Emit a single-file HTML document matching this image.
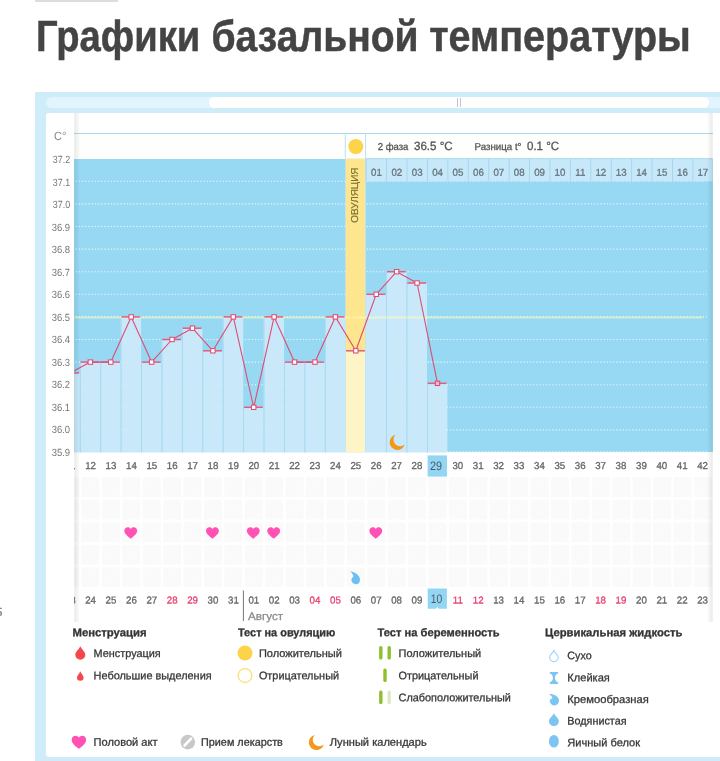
<!DOCTYPE html>
<html lang="ru"><head><meta charset="utf-8"><title>Графики базальной температуры</title>
<style>
html,body{margin:0;padding:0;background:#fff;}
body{width:720px;height:761px;overflow:hidden;position:relative;font-family:"Liberation Sans",sans-serif;}
.a{position:absolute;}
.t{position:absolute;white-space:pre;line-height:1;transform-origin:0 0;-webkit-text-stroke:0.3px currentColor;}
.st{-webkit-text-stroke:0.5px currentColor;}
.ns{-webkit-text-stroke:0;}
.s1{-webkit-text-stroke:0.12px currentColor;}
svg{position:absolute;left:0;top:0;overflow:visible;}
</style></head><body>
<div class="a" style="left:35.00px;top:0.00px;width:83.00px;height:1.50px;background:#ddd;"></div>
<div class="t" style="left:-4px;top:607px;font-size:11.5px;color:#777;">5</div>
<div class="a" style="left:35.30px;top:92.20px;width:700.00px;height:680.00px;background:#cfecf9;"></div>
<div class="a" style="left:46.00px;top:97.20px;width:700.00px;height:10.80px;background:#e2f4fd;border-radius:5.4px;"></div>
<div class="a" style="left:209.20px;top:97.20px;width:499.40px;height:10.80px;background:#fff;border-radius:5.4px;"></div>
<div class="a" style="left:457.40px;top:98.00px;width:1.00px;height:9.20px;background:#bfc7cc;"></div>
<div class="a" style="left:459.80px;top:98.00px;width:1.00px;height:9.20px;background:#bfc7cc;"></div>
<div class="a" style="left:46.00px;top:113.20px;width:700.00px;height:643.50px;background:#fff;border-radius:3px;"></div>
<div class="a" style="left:74.20px;top:133.80px;width:638.60px;height:24.90px;background:#fefefc;"></div>
<div class="a" style="left:74.20px;top:132.80px;width:638.60px;height:1.00px;background:#a9d9ef;"></div>
<div class="a" style="left:74.20px;top:158.60px;width:638.60px;height:293.90px;background:#97d8f3;"></div>
<div class="a" style="left:74.20px;top:477.40px;width:638.60px;height:109.80px;background:#f9f9f9;background-image:repeating-linear-gradient(135deg,rgba(255,255,255,0.45) 0,rgba(255,255,255,0.45) 0.8px,rgba(255,255,255,0) 0.8px,rgba(255,255,255,0) 2.2px);"></div>
<svg width="720" height="761" viewBox="0 0 720 761">
<defs><clipPath id="cp"><rect x="74.20" y="100" width="638.60" height="560"/></clipPath>
<linearGradient id="sl" x1="0" x2="1" y1="0" y2="0"><stop offset="0" stop-color="#000" stop-opacity="0.09"/><stop offset="1" stop-color="#000" stop-opacity="0"/></linearGradient>
<linearGradient id="sr" x1="0" x2="1" y1="0" y2="0"><stop offset="0" stop-color="#000" stop-opacity="0"/><stop offset="1" stop-color="#000" stop-opacity="0.09"/></linearGradient>
</defs>
<g clip-path="url(#cp)">
<rect x="58.53" y="477" width="2.5" height="111" fill="#fff" fill-opacity="0.9"/>
<rect x="78.95" y="477" width="2.5" height="111" fill="#fff" fill-opacity="0.9"/>
<rect x="99.37" y="477" width="2.5" height="111" fill="#fff" fill-opacity="0.9"/>
<rect x="119.79" y="477" width="2.5" height="111" fill="#fff" fill-opacity="0.9"/>
<rect x="140.21" y="477" width="2.5" height="111" fill="#fff" fill-opacity="0.9"/>
<rect x="160.63" y="477" width="2.5" height="111" fill="#fff" fill-opacity="0.9"/>
<rect x="181.05" y="477" width="2.5" height="111" fill="#fff" fill-opacity="0.9"/>
<rect x="201.47" y="477" width="2.5" height="111" fill="#fff" fill-opacity="0.9"/>
<rect x="221.89" y="477" width="2.5" height="111" fill="#fff" fill-opacity="0.9"/>
<rect x="242.31" y="477" width="2.5" height="111" fill="#fff" fill-opacity="0.9"/>
<rect x="262.73" y="477" width="2.5" height="111" fill="#fff" fill-opacity="0.9"/>
<rect x="283.15" y="477" width="2.5" height="111" fill="#fff" fill-opacity="0.9"/>
<rect x="303.57" y="477" width="2.5" height="111" fill="#fff" fill-opacity="0.9"/>
<rect x="323.99" y="477" width="2.5" height="111" fill="#fff" fill-opacity="0.9"/>
<rect x="344.41" y="477" width="2.5" height="111" fill="#fff" fill-opacity="0.9"/>
<rect x="364.83" y="477" width="2.5" height="111" fill="#fff" fill-opacity="0.9"/>
<rect x="385.25" y="477" width="2.5" height="111" fill="#fff" fill-opacity="0.9"/>
<rect x="405.67" y="477" width="2.5" height="111" fill="#fff" fill-opacity="0.9"/>
<rect x="426.09" y="477" width="2.5" height="111" fill="#fff" fill-opacity="0.9"/>
<rect x="446.51" y="477" width="2.5" height="111" fill="#fff" fill-opacity="0.9"/>
<rect x="466.93" y="477" width="2.5" height="111" fill="#fff" fill-opacity="0.9"/>
<rect x="487.35" y="477" width="2.5" height="111" fill="#fff" fill-opacity="0.9"/>
<rect x="507.77" y="477" width="2.5" height="111" fill="#fff" fill-opacity="0.9"/>
<rect x="528.19" y="477" width="2.5" height="111" fill="#fff" fill-opacity="0.9"/>
<rect x="548.61" y="477" width="2.5" height="111" fill="#fff" fill-opacity="0.9"/>
<rect x="569.03" y="477" width="2.5" height="111" fill="#fff" fill-opacity="0.9"/>
<rect x="589.45" y="477" width="2.5" height="111" fill="#fff" fill-opacity="0.9"/>
<rect x="609.87" y="477" width="2.5" height="111" fill="#fff" fill-opacity="0.9"/>
<rect x="630.29" y="477" width="2.5" height="111" fill="#fff" fill-opacity="0.9"/>
<rect x="650.71" y="477" width="2.5" height="111" fill="#fff" fill-opacity="0.9"/>
<rect x="671.13" y="477" width="2.5" height="111" fill="#fff" fill-opacity="0.9"/>
<rect x="691.55" y="477" width="2.5" height="111" fill="#fff" fill-opacity="0.9"/>
<rect x="711.97" y="477" width="2.5" height="111" fill="#fff" fill-opacity="0.9"/>
<rect x="74.20" y="496.90" width="638.60" height="3" fill="#fff" fill-opacity="0.9"/>
<rect x="74.20" y="519.40" width="638.60" height="3" fill="#fff" fill-opacity="0.9"/>
<rect x="74.20" y="541.90" width="638.60" height="3" fill="#fff" fill-opacity="0.9"/>
<rect x="74.20" y="564.40" width="638.60" height="3" fill="#fff" fill-opacity="0.9"/>
<line x1="75.70" y1="181.30" x2="707.00" y2="181.30" stroke="#fff" stroke-opacity="0.8" stroke-width="1.1" stroke-dasharray="1.15 2.05"/>
<line x1="75.70" y1="203.90" x2="707.00" y2="203.90" stroke="#fff" stroke-opacity="0.8" stroke-width="1.1" stroke-dasharray="1.15 2.05"/>
<line x1="75.70" y1="226.50" x2="707.00" y2="226.50" stroke="#fff" stroke-opacity="0.8" stroke-width="1.1" stroke-dasharray="1.15 2.05"/>
<line x1="75.70" y1="249.10" x2="707.00" y2="249.10" stroke="#fff" stroke-opacity="0.8" stroke-width="1.1" stroke-dasharray="1.15 2.05"/>
<line x1="75.70" y1="271.70" x2="707.00" y2="271.70" stroke="#fff" stroke-opacity="0.8" stroke-width="1.1" stroke-dasharray="1.15 2.05"/>
<line x1="75.70" y1="294.30" x2="707.00" y2="294.30" stroke="#fff" stroke-opacity="0.8" stroke-width="1.1" stroke-dasharray="1.15 2.05"/>
<line x1="75.70" y1="316.90" x2="707.00" y2="316.90" stroke="#fff" stroke-opacity="0.8" stroke-width="1.1" stroke-dasharray="1.15 2.05"/>
<line x1="75.70" y1="339.50" x2="707.00" y2="339.50" stroke="#fff" stroke-opacity="0.8" stroke-width="1.1" stroke-dasharray="1.15 2.05"/>
<line x1="75.70" y1="362.10" x2="707.00" y2="362.10" stroke="#fff" stroke-opacity="0.8" stroke-width="1.1" stroke-dasharray="1.15 2.05"/>
<line x1="75.70" y1="384.70" x2="707.00" y2="384.70" stroke="#fff" stroke-opacity="0.8" stroke-width="1.1" stroke-dasharray="1.15 2.05"/>
<line x1="75.70" y1="407.30" x2="707.00" y2="407.30" stroke="#fff" stroke-opacity="0.8" stroke-width="1.1" stroke-dasharray="1.15 2.05"/>
<line x1="75.70" y1="429.90" x2="707.00" y2="429.90" stroke="#fff" stroke-opacity="0.8" stroke-width="1.1" stroke-dasharray="1.15 2.05"/>
<line x1="75.70" y1="451.90" x2="707.00" y2="451.90" stroke="#fff" stroke-opacity="0.8" stroke-width="1.1" stroke-dasharray="1.15 2.05"/>
<rect x="59.43" y="372.95" width="20.42" height="79.55" fill="#c9e9fa"/>
<rect x="59.43" y="372.95" width="0.9" height="79.55" fill="#a4d8f0"/>
<rect x="79.85" y="362.10" width="20.42" height="90.40" fill="#c9e9fa"/>
<rect x="79.85" y="362.10" width="0.9" height="90.40" fill="#a4d8f0"/>
<rect x="100.27" y="362.10" width="20.42" height="90.40" fill="#c9e9fa"/>
<rect x="100.27" y="362.10" width="0.9" height="90.40" fill="#a4d8f0"/>
<rect x="120.69" y="316.90" width="20.42" height="135.60" fill="#c9e9fa"/>
<rect x="120.69" y="316.90" width="0.9" height="135.60" fill="#a4d8f0"/>
<rect x="141.11" y="362.10" width="20.42" height="90.40" fill="#c9e9fa"/>
<rect x="141.11" y="362.10" width="0.9" height="90.40" fill="#a4d8f0"/>
<rect x="161.53" y="339.50" width="20.42" height="113.00" fill="#c9e9fa"/>
<rect x="161.53" y="339.50" width="0.9" height="113.00" fill="#a4d8f0"/>
<rect x="181.95" y="328.20" width="20.42" height="124.30" fill="#c9e9fa"/>
<rect x="181.95" y="328.20" width="0.9" height="124.30" fill="#a4d8f0"/>
<rect x="202.37" y="350.80" width="20.42" height="101.70" fill="#c9e9fa"/>
<rect x="202.37" y="350.80" width="0.9" height="101.70" fill="#a4d8f0"/>
<rect x="222.79" y="316.90" width="20.42" height="135.60" fill="#c9e9fa"/>
<rect x="222.79" y="316.90" width="0.9" height="135.60" fill="#a4d8f0"/>
<rect x="243.21" y="407.30" width="20.42" height="45.20" fill="#c9e9fa"/>
<rect x="243.21" y="407.30" width="0.9" height="45.20" fill="#a4d8f0"/>
<rect x="263.63" y="316.90" width="20.42" height="135.60" fill="#c9e9fa"/>
<rect x="263.63" y="316.90" width="0.9" height="135.60" fill="#a4d8f0"/>
<rect x="284.05" y="362.10" width="20.42" height="90.40" fill="#c9e9fa"/>
<rect x="284.05" y="362.10" width="0.9" height="90.40" fill="#a4d8f0"/>
<rect x="304.47" y="362.10" width="20.42" height="90.40" fill="#c9e9fa"/>
<rect x="304.47" y="362.10" width="0.9" height="90.40" fill="#a4d8f0"/>
<rect x="324.89" y="316.90" width="20.42" height="135.60" fill="#c9e9fa"/>
<rect x="324.89" y="316.90" width="0.9" height="135.60" fill="#a4d8f0"/>
<rect x="345.31" y="158.70" width="20.42" height="293.80" fill="#c6e8f9"/>
<rect x="345.81" y="158.70" width="19.22" height="192.10" fill="#fde68d"/>
<rect x="345.81" y="350.80" width="19.22" height="101.70" fill="#fdf4c8"/>
<rect x="365.73" y="294.30" width="20.42" height="158.20" fill="#c9e9fa"/>
<rect x="386.15" y="271.70" width="20.42" height="180.80" fill="#c9e9fa"/>
<rect x="386.15" y="271.70" width="0.9" height="180.80" fill="#a4d8f0"/>
<rect x="406.57" y="283.00" width="20.42" height="169.50" fill="#c9e9fa"/>
<rect x="406.57" y="283.00" width="0.9" height="169.50" fill="#a4d8f0"/>
<rect x="426.99" y="383.34" width="20.42" height="69.16" fill="#c9e9fa"/>
<rect x="426.99" y="383.34" width="0.9" height="69.16" fill="#a4d8f0"/>
<rect x="365.73" y="158.70" width="347.07" height="22.60" fill="#c6e8f9"/>
<rect x="365.73" y="158.70" width="0.9" height="22.60" fill="#a3d5ec"/>
<rect x="386.15" y="158.70" width="0.9" height="22.60" fill="#a3d5ec"/>
<rect x="406.57" y="158.70" width="0.9" height="22.60" fill="#a3d5ec"/>
<rect x="426.99" y="158.70" width="0.9" height="22.60" fill="#a3d5ec"/>
<rect x="447.41" y="158.70" width="0.9" height="22.60" fill="#a3d5ec"/>
<rect x="467.83" y="158.70" width="0.9" height="22.60" fill="#a3d5ec"/>
<rect x="488.25" y="158.70" width="0.9" height="22.60" fill="#a3d5ec"/>
<rect x="508.67" y="158.70" width="0.9" height="22.60" fill="#a3d5ec"/>
<rect x="529.09" y="158.70" width="0.9" height="22.60" fill="#a3d5ec"/>
<rect x="549.51" y="158.70" width="0.9" height="22.60" fill="#a3d5ec"/>
<rect x="569.93" y="158.70" width="0.9" height="22.60" fill="#a3d5ec"/>
<rect x="590.35" y="158.70" width="0.9" height="22.60" fill="#a3d5ec"/>
<rect x="610.77" y="158.70" width="0.9" height="22.60" fill="#a3d5ec"/>
<rect x="631.19" y="158.70" width="0.9" height="22.60" fill="#a3d5ec"/>
<rect x="651.61" y="158.70" width="0.9" height="22.60" fill="#a3d5ec"/>
<rect x="672.03" y="158.70" width="0.9" height="22.60" fill="#a3d5ec"/>
<rect x="692.45" y="158.70" width="0.9" height="22.60" fill="#a3d5ec"/>
<rect x="712.87" y="158.70" width="0.9" height="22.60" fill="#a3d5ec"/>
<rect x="365.73" y="158.20" width="347.07" height="1" fill="#a9d9ef"/>
<rect x="344.81" y="133" width="0.9" height="25.70" fill="#b5dff2"/>
<rect x="365.03" y="133" width="0.9" height="25.70" fill="#b5dff2"/>
<line x1="75.70" y1="181.30" x2="345.31" y2="181.30" stroke="#fff" stroke-opacity="0.16" stroke-width="1.1" stroke-dasharray="1.15 2.05"/>
<line x1="365.73" y1="181.30" x2="447.41" y2="181.30" stroke="#fff" stroke-opacity="0.16" stroke-width="1.1" stroke-dasharray="1.15 2.05"/>
<line x1="75.70" y1="203.90" x2="345.31" y2="203.90" stroke="#fff" stroke-opacity="0.16" stroke-width="1.1" stroke-dasharray="1.15 2.05"/>
<line x1="365.73" y1="203.90" x2="447.41" y2="203.90" stroke="#fff" stroke-opacity="0.16" stroke-width="1.1" stroke-dasharray="1.15 2.05"/>
<line x1="75.70" y1="226.50" x2="345.31" y2="226.50" stroke="#fff" stroke-opacity="0.16" stroke-width="1.1" stroke-dasharray="1.15 2.05"/>
<line x1="365.73" y1="226.50" x2="447.41" y2="226.50" stroke="#fff" stroke-opacity="0.16" stroke-width="1.1" stroke-dasharray="1.15 2.05"/>
<line x1="75.70" y1="249.10" x2="345.31" y2="249.10" stroke="#fff" stroke-opacity="0.16" stroke-width="1.1" stroke-dasharray="1.15 2.05"/>
<line x1="365.73" y1="249.10" x2="447.41" y2="249.10" stroke="#fff" stroke-opacity="0.16" stroke-width="1.1" stroke-dasharray="1.15 2.05"/>
<line x1="75.70" y1="271.70" x2="345.31" y2="271.70" stroke="#fff" stroke-opacity="0.16" stroke-width="1.1" stroke-dasharray="1.15 2.05"/>
<line x1="365.73" y1="271.70" x2="447.41" y2="271.70" stroke="#fff" stroke-opacity="0.16" stroke-width="1.1" stroke-dasharray="1.15 2.05"/>
<line x1="75.70" y1="294.30" x2="345.31" y2="294.30" stroke="#fff" stroke-opacity="0.16" stroke-width="1.1" stroke-dasharray="1.15 2.05"/>
<line x1="365.73" y1="294.30" x2="447.41" y2="294.30" stroke="#fff" stroke-opacity="0.16" stroke-width="1.1" stroke-dasharray="1.15 2.05"/>
<line x1="75.70" y1="316.90" x2="345.31" y2="316.90" stroke="#fff" stroke-opacity="0.16" stroke-width="1.1" stroke-dasharray="1.15 2.05"/>
<line x1="365.73" y1="316.90" x2="447.41" y2="316.90" stroke="#fff" stroke-opacity="0.16" stroke-width="1.1" stroke-dasharray="1.15 2.05"/>
<line x1="75.70" y1="339.50" x2="345.31" y2="339.50" stroke="#fff" stroke-opacity="0.16" stroke-width="1.1" stroke-dasharray="1.15 2.05"/>
<line x1="365.73" y1="339.50" x2="447.41" y2="339.50" stroke="#fff" stroke-opacity="0.16" stroke-width="1.1" stroke-dasharray="1.15 2.05"/>
<line x1="75.70" y1="362.10" x2="345.31" y2="362.10" stroke="#fff" stroke-opacity="0.16" stroke-width="1.1" stroke-dasharray="1.15 2.05"/>
<line x1="365.73" y1="362.10" x2="447.41" y2="362.10" stroke="#fff" stroke-opacity="0.16" stroke-width="1.1" stroke-dasharray="1.15 2.05"/>
<line x1="75.70" y1="384.70" x2="345.31" y2="384.70" stroke="#fff" stroke-opacity="0.16" stroke-width="1.1" stroke-dasharray="1.15 2.05"/>
<line x1="365.73" y1="384.70" x2="447.41" y2="384.70" stroke="#fff" stroke-opacity="0.16" stroke-width="1.1" stroke-dasharray="1.15 2.05"/>
<line x1="75.70" y1="407.30" x2="345.31" y2="407.30" stroke="#fff" stroke-opacity="0.16" stroke-width="1.1" stroke-dasharray="1.15 2.05"/>
<line x1="365.73" y1="407.30" x2="447.41" y2="407.30" stroke="#fff" stroke-opacity="0.16" stroke-width="1.1" stroke-dasharray="1.15 2.05"/>
<line x1="75.70" y1="429.90" x2="345.31" y2="429.90" stroke="#fff" stroke-opacity="0.16" stroke-width="1.1" stroke-dasharray="1.15 2.05"/>
<line x1="365.73" y1="429.90" x2="447.41" y2="429.90" stroke="#fff" stroke-opacity="0.16" stroke-width="1.1" stroke-dasharray="1.15 2.05"/>
<rect x="74.20" y="316.50" width="628.30" height="2" fill="#ffffb0" fill-opacity="0.5"/>
<rect x="60.13" y="372.20" width="18.92" height="1.5" fill="#e35c80"/>
<rect x="80.55" y="361.35" width="18.92" height="1.5" fill="#e35c80"/>
<rect x="100.97" y="361.35" width="18.92" height="1.5" fill="#e35c80"/>
<rect x="121.39" y="316.15" width="18.92" height="1.5" fill="#e35c80"/>
<rect x="141.81" y="361.35" width="18.92" height="1.5" fill="#e35c80"/>
<rect x="162.23" y="338.75" width="18.92" height="1.5" fill="#e35c80"/>
<rect x="182.65" y="327.45" width="18.92" height="1.5" fill="#e35c80"/>
<rect x="203.07" y="350.05" width="18.92" height="1.5" fill="#e35c80"/>
<rect x="223.49" y="316.15" width="18.92" height="1.5" fill="#e35c80"/>
<rect x="243.91" y="406.55" width="18.92" height="1.5" fill="#e35c80"/>
<rect x="264.33" y="316.15" width="18.92" height="1.5" fill="#e35c80"/>
<rect x="284.75" y="361.35" width="18.92" height="1.5" fill="#e35c80"/>
<rect x="305.17" y="361.35" width="18.92" height="1.5" fill="#e35c80"/>
<rect x="325.59" y="316.15" width="18.92" height="1.5" fill="#e35c80"/>
<rect x="346.01" y="350.05" width="18.92" height="1.5" fill="#e35c80"/>
<rect x="366.43" y="293.55" width="18.92" height="1.5" fill="#e35c80"/>
<rect x="386.85" y="270.95" width="18.92" height="1.5" fill="#e35c80"/>
<rect x="407.27" y="282.25" width="18.92" height="1.5" fill="#e35c80"/>
<rect x="427.69" y="382.59" width="18.92" height="1.5" fill="#e35c80"/>
<polyline points="69.93,372.95 90.35,362.10 110.77,362.10 131.19,316.90 151.61,362.10 172.03,339.50 192.45,328.20 212.87,350.80 233.29,316.90 253.71,407.30 274.13,316.90 294.55,362.10 314.97,362.10 335.39,316.90 355.81,350.80 376.23,294.30 396.65,271.70 417.07,283.00 437.49,383.34" fill="none" stroke="#de4d75" stroke-width="1.1" stroke-linejoin="round"/>
<rect x="67.73" y="370.75" width="4.4" height="4.4" fill="#fff" stroke="#de4d75" stroke-width="1.05"/>
<rect x="88.15" y="359.90" width="4.4" height="4.4" fill="#fff" stroke="#de4d75" stroke-width="1.05"/>
<rect x="108.57" y="359.90" width="4.4" height="4.4" fill="#fff" stroke="#de4d75" stroke-width="1.05"/>
<rect x="128.99" y="314.70" width="4.4" height="4.4" fill="#fff" stroke="#de4d75" stroke-width="1.05"/>
<rect x="149.41" y="359.90" width="4.4" height="4.4" fill="#fff" stroke="#de4d75" stroke-width="1.05"/>
<rect x="169.83" y="337.30" width="4.4" height="4.4" fill="#fff" stroke="#de4d75" stroke-width="1.05"/>
<rect x="190.25" y="326.00" width="4.4" height="4.4" fill="#fff" stroke="#de4d75" stroke-width="1.05"/>
<rect x="210.67" y="348.60" width="4.4" height="4.4" fill="#fff" stroke="#de4d75" stroke-width="1.05"/>
<rect x="231.09" y="314.70" width="4.4" height="4.4" fill="#fff" stroke="#de4d75" stroke-width="1.05"/>
<rect x="251.51" y="405.10" width="4.4" height="4.4" fill="#fff" stroke="#de4d75" stroke-width="1.05"/>
<rect x="271.93" y="314.70" width="4.4" height="4.4" fill="#fff" stroke="#de4d75" stroke-width="1.05"/>
<rect x="292.35" y="359.90" width="4.4" height="4.4" fill="#fff" stroke="#de4d75" stroke-width="1.05"/>
<rect x="312.77" y="359.90" width="4.4" height="4.4" fill="#fff" stroke="#de4d75" stroke-width="1.05"/>
<rect x="333.19" y="314.70" width="4.4" height="4.4" fill="#fff" stroke="#de4d75" stroke-width="1.05"/>
<rect x="353.61" y="348.60" width="4.4" height="4.4" fill="#fff" stroke="#de4d75" stroke-width="1.05"/>
<rect x="374.03" y="292.10" width="4.4" height="4.4" fill="#fff" stroke="#de4d75" stroke-width="1.05"/>
<rect x="394.45" y="269.50" width="4.4" height="4.4" fill="#fff" stroke="#de4d75" stroke-width="1.05"/>
<rect x="414.87" y="280.80" width="4.4" height="4.4" fill="#fff" stroke="#de4d75" stroke-width="1.05"/>
<rect x="435.29" y="381.14" width="4.4" height="4.4" fill="#f7b3c6" stroke="#de4d75" stroke-width="1.05"/>
<path transform="translate(397.20 442.20) scale(1.000)" fill="#f2981d" d="M -1.6 -7.4 A 7.7 7.7 0 1 0 7.5 2.2 A 5.6 5.6 0 0 1 -1.6 -7.4 Z"/>
<rect x="74.20" y="113" width="6" height="509" fill="url(#sl)"/>
<rect x="706.80" y="113" width="6" height="509" fill="url(#sr)"/>
</g>
<rect x="427.6" y="455.4" width="19.4" height="21.2" fill="#93d6f3"/>
<path d="M427.7 588.5 h19.2 v20.2 h-8.1 l-1.5 -1.6 l-1.5 1.6 h-8.1 z" fill="#93d6f3"/>
<rect x="242.9" y="590.5" width="1" height="30.5" fill="#777"/>
<circle cx="355.81" cy="146.6" r="7.5" fill="#fdd349"/>
<path transform="translate(130.74 532.90) scale(1.000) scale(0.97 0.93)" fill="#ff52b4" d="M0 6.2 C -2.2 4.4 -6.6 1.6 -6.6 -2.2 C -6.6 -4.6 -4.9 -6.1 -3.1 -6.1 C -1.8 -6.1 -0.6 -5.4 0 -4.3 C 0.6 -5.4 1.8 -6.1 3.1 -6.1 C 4.9 -6.1 6.6 -4.6 6.6 -2.2 C 6.6 1.6 2.2 4.4 0 6.2 Z"/>
<path transform="translate(212.42 532.90) scale(1.000) scale(0.97 0.93)" fill="#ff52b4" d="M0 6.2 C -2.2 4.4 -6.6 1.6 -6.6 -2.2 C -6.6 -4.6 -4.9 -6.1 -3.1 -6.1 C -1.8 -6.1 -0.6 -5.4 0 -4.3 C 0.6 -5.4 1.8 -6.1 3.1 -6.1 C 4.9 -6.1 6.6 -4.6 6.6 -2.2 C 6.6 1.6 2.2 4.4 0 6.2 Z"/>
<path transform="translate(253.26 532.90) scale(1.000) scale(0.97 0.93)" fill="#ff52b4" d="M0 6.2 C -2.2 4.4 -6.6 1.6 -6.6 -2.2 C -6.6 -4.6 -4.9 -6.1 -3.1 -6.1 C -1.8 -6.1 -0.6 -5.4 0 -4.3 C 0.6 -5.4 1.8 -6.1 3.1 -6.1 C 4.9 -6.1 6.6 -4.6 6.6 -2.2 C 6.6 1.6 2.2 4.4 0 6.2 Z"/>
<path transform="translate(273.68 532.90) scale(1.000) scale(0.97 0.93)" fill="#ff52b4" d="M0 6.2 C -2.2 4.4 -6.6 1.6 -6.6 -2.2 C -6.6 -4.6 -4.9 -6.1 -3.1 -6.1 C -1.8 -6.1 -0.6 -5.4 0 -4.3 C 0.6 -5.4 1.8 -6.1 3.1 -6.1 C 4.9 -6.1 6.6 -4.6 6.6 -2.2 C 6.6 1.6 2.2 4.4 0 6.2 Z"/>
<path transform="translate(375.78 532.90) scale(1.000) scale(0.97 0.93)" fill="#ff52b4" d="M0 6.2 C -2.2 4.4 -6.6 1.6 -6.6 -2.2 C -6.6 -4.6 -4.9 -6.1 -3.1 -6.1 C -1.8 -6.1 -0.6 -5.4 0 -4.3 C 0.6 -5.4 1.8 -6.1 3.1 -6.1 C 4.9 -6.1 6.6 -4.6 6.6 -2.2 C 6.6 1.6 2.2 4.4 0 6.2 Z"/>
<path transform="translate(355.70 579.80) scale(1.000)" fill="#6fc0f0" d="M -5.4 -8.5 C -1 -7.6 4.3 -4.6 4.3 0 A 4.3 4.3 0 1 1 -4.3 0.3 C -4.3 -1.5 -3 -2.6 -2.2 -3.6 C -2.6 -5.2 -4 -7 -5.4 -8.5 Z"/>
<path d="M 80.30 646.25 C 82.05 650.08 85.30 651.75 85.30 654.75 A 5.00 5.00 0 1 1 75.30 654.75 C 75.30 651.75 78.55 650.08 80.30 646.25 Z" fill="#f6474c"/>
<path d="M 80.30 671.20 C 81.45 674.04 83.60 675.52 83.60 677.50 A 3.30 3.30 0 1 1 77.00 677.50 C 77.00 675.52 79.14 674.04 80.30 671.20 Z" fill="#f6474c"/>
<circle cx="245" cy="653" r="7.5" fill="#fdd349"/>
<circle cx="245" cy="675.5" r="6.9" fill="#fff" stroke="#fddc6c" stroke-width="1.2"/>
<rect x="379.10" y="645.90" width="3.4" height="13.6" rx="1.5" fill="#8ec02c"/>
<rect x="387.50" y="645.90" width="3.4" height="13.6" rx="1.5" fill="#8ec02c"/>
<rect x="383.30" y="668.50" width="3.4" height="13.6" rx="1.5" fill="#8ec02c"/>
<rect x="379.10" y="690.50" width="3.4" height="13.6" rx="1.5" fill="#8ec02c"/>
<rect x="387.50" y="690.50" width="3.4" height="13.6" rx="1.5" fill="#dcebbf"/>
<path d="M 553.90 650.40 C 555.40 653.50 558.20 654.72 558.20 657.30 A 4.30 4.30 0 1 1 549.60 657.30 C 549.60 654.72 552.39 653.50 553.90 650.40 Z" fill="#fff" stroke="#9fd2f4" stroke-width="1.15"/>
<path fill="#7cc4f1" d="M549.8 672 h8.3 v1.5 c-1.9 0.5 -3.1 2.2 -3.1 4.6 c0 2 1.3 3.9 3.1 4.5 v1.5 h-8.3 v-1.5 c1.8 -0.6 3.1 -2.5 3.1 -4.5 c0 -2.4 -1.2 -4.1 -3.1 -4.6 z"/>
<path transform="translate(554.40 700.60)" fill="#7cc4f1" d="M -5.3 -6.5 C -1.5 -7 4.6 -4.6 4.6 0 A 4.6 4.6 0 1 1 -4.6 0.4 C -4.6 -1 -3.4 -2 -1.9 -2.4 C -2.4 -4 -3.8 -5.4 -5.3 -6.5 Z"/>
<path d="M 553.90 713.30 C 555.62 716.86 558.80 718.26 558.80 721.20 A 4.90 4.90 0 1 1 549.00 721.20 C 549.00 718.26 552.18 716.86 553.90 713.30 Z" fill="#7cc4f1"/>
<ellipse cx="553.9" cy="741.3" rx="4.9" ry="6.3" fill="#7cc4f1"/>
<path transform="translate(78.90 742.20) scale(1.120) scale(0.97 0.93)" fill="#ff52b4" d="M0 6.2 C -2.2 4.4 -6.6 1.6 -6.6 -2.2 C -6.6 -4.6 -4.9 -6.1 -3.1 -6.1 C -1.8 -6.1 -0.6 -5.4 0 -4.3 C 0.6 -5.4 1.8 -6.1 3.1 -6.1 C 4.9 -6.1 6.6 -4.6 6.6 -2.2 C 6.6 1.6 2.2 4.4 0 6.2 Z"/>
<circle cx="187.8" cy="742.1" r="7.3" fill="#c8c8c8"/>
<path d="M184.5 745.5 L191.1 738.7" stroke="#fff" stroke-width="2.6" stroke-linecap="round"/>
<path transform="translate(316.40 742.30) scale(1.000)" fill="#f2981d" d="M -1.6 -7.4 A 7.7 7.7 0 1 0 7.5 2.2 A 5.6 5.6 0 0 1 -1.6 -7.4 Z"/>
</svg>
<div class="a" style="left:350px;top:222px;width:0;height:0;"><div class="t" style="left:0;top:0;font-size:10px;color:#7d7233;-webkit-text-stroke:0.2px #7d7233;transform-origin:0 0;transform:translate(0.10px,0.80px) rotate(-90.03deg) scaleX(0.9909);">ОВУЛЯЦИЯ</div></div>
<div class="t st" style="left:36px;top:14px;font-size:43.6px;color:#444;font-weight:bold;transform:translate(0.05px,0.90px) rotate(0.03deg) scaleX(0.8758);">Графики</div>
<div class="t st" style="left:211px;top:14px;font-size:43.6px;color:#444;font-weight:bold;transform:translate(0.51px,0.90px) rotate(0.03deg) scaleX(0.8954);">базальной</div>
<div class="t st" style="left:429px;top:14px;font-size:43.6px;color:#444;font-weight:bold;transform:translate(0.29px,0.90px) rotate(0.03deg) scaleX(0.9059);">температуры</div>
<div class="t ns" style="left:52px;top:155px;font-size:10.4px;color:#777;transform:translate(0.80px,0.00px) rotate(0.03deg) scaleX(0.8560);">37.2</div>
<div class="t ns" style="left:52px;top:177px;font-size:10.4px;color:#777;transform:translate(0.80px,0.54px) rotate(0.03deg) scaleX(0.8560);">37.1</div>
<div class="t ns" style="left:52px;top:200px;font-size:10.4px;color:#777;transform:translate(0.80px,0.08px) rotate(0.03deg) scaleX(0.8560);">37.0</div>
<div class="t ns" style="left:51px;top:222px;font-size:10.4px;color:#777;transform:translate(0.80px,0.62px) rotate(0.03deg) scaleX(0.9049);">36.9</div>
<div class="t ns" style="left:51px;top:245px;font-size:10.4px;color:#777;transform:translate(0.80px,0.16px) rotate(0.03deg) scaleX(0.9049);">36.8</div>
<div class="t ns" style="left:51px;top:267px;font-size:10.4px;color:#777;transform:translate(0.80px,0.70px) rotate(0.03deg) scaleX(0.9049);">36.7</div>
<div class="t ns" style="left:51px;top:290px;font-size:10.4px;color:#777;transform:translate(0.80px,0.24px) rotate(0.03deg) scaleX(0.9049);">36.6</div>
<div class="t ns" style="left:51px;top:312px;font-size:10.4px;color:#777;transform:translate(0.80px,0.78px) rotate(0.03deg) scaleX(0.9049);">36.5</div>
<div class="t ns" style="left:51px;top:335px;font-size:10.4px;color:#777;transform:translate(0.80px,0.32px) rotate(0.03deg) scaleX(0.9049);">36.4</div>
<div class="t ns" style="left:51px;top:357px;font-size:10.4px;color:#777;transform:translate(0.80px,0.86px) rotate(0.03deg) scaleX(0.9049);">36.3</div>
<div class="t ns" style="left:51px;top:380px;font-size:10.4px;color:#777;transform:translate(0.80px,0.40px) rotate(0.03deg) scaleX(0.9049);">36.2</div>
<div class="t ns" style="left:51px;top:402px;font-size:10.4px;color:#777;transform:translate(0.80px,0.94px) rotate(0.03deg) scaleX(0.9049);">36.1</div>
<div class="t ns" style="left:51px;top:425px;font-size:10.4px;color:#777;transform:translate(0.80px,0.48px) rotate(0.03deg) scaleX(0.9049);">36.0</div>
<div class="t ns" style="left:51px;top:448px;font-size:10.4px;color:#777;transform:translate(0.80px,0.02px) rotate(0.03deg) scaleX(0.9049);">35.9</div>
<div class="t ns" style="left:54px;top:129px;font-size:12px;color:#8a8a8a;transform:translate(0.00px,0.60px) rotate(0.03deg) scaleX(0.9147);">C°</div>
<div class="t ns" style="left:430px;top:460px;font-size:12.3px;color:#4a5a66;transform:translate(0.00px,0.00px) rotate(0.03deg) scaleX(0.8816);">29</div>
<div class="t ns" style="left:430px;top:592px;font-size:12.3px;color:#4a5a66;transform:translate(0.70px,0.70px) rotate(0.03deg) scaleX(0.8382);">10</div>
<div class="t" style="left:248px;top:611px;font-size:11.2px;color:#8c8c8c;transform:translate(0.00px,0.00px) rotate(0.03deg) scaleX(1.0433);">Август</div>
<div class="t" style="left:370px;top:167px;font-size:10.0px;color:#66757f;transform:translate(1.00px,0.70px) rotate(0.03deg) scaleX(0.9710);">01</div>
<div class="t" style="left:391px;top:167px;font-size:10.0px;color:#66757f;transform:translate(0.40px,0.70px) rotate(0.03deg) scaleX(0.9710);">02</div>
<div class="t" style="left:411px;top:167px;font-size:10.0px;color:#66757f;transform:translate(0.80px,0.70px) rotate(0.03deg) scaleX(0.9710);">03</div>
<div class="t" style="left:432px;top:167px;font-size:10.0px;color:#66757f;transform:translate(0.20px,0.70px) rotate(0.03deg) scaleX(0.9710);">04</div>
<div class="t" style="left:452px;top:167px;font-size:10.0px;color:#66757f;transform:translate(0.60px,0.70px) rotate(0.03deg) scaleX(0.9710);">05</div>
<div class="t" style="left:472px;top:167px;font-size:10.0px;color:#66757f;transform:translate(1.00px,0.70px) rotate(0.03deg) scaleX(0.9710);">06</div>
<div class="t" style="left:493px;top:167px;font-size:10.0px;color:#66757f;transform:translate(0.40px,0.70px) rotate(0.03deg) scaleX(0.9710);">07</div>
<div class="t" style="left:513px;top:167px;font-size:10.0px;color:#66757f;transform:translate(0.80px,0.70px) rotate(0.03deg) scaleX(0.9710);">08</div>
<div class="t" style="left:534px;top:167px;font-size:10.0px;color:#66757f;transform:translate(0.20px,0.70px) rotate(0.03deg) scaleX(0.9710);">09</div>
<div class="t" style="left:554px;top:167px;font-size:10.0px;color:#66757f;transform:translate(0.60px,0.70px) rotate(0.03deg) scaleX(0.9710);">10</div>
<div class="t" style="left:575px;top:167px;font-size:10.0px;color:#66757f;transform:translate(0.36px,0.70px) rotate(0.03deg) scaleX(0.9710);">11</div>
<div class="t" style="left:595px;top:167px;font-size:10.0px;color:#66757f;transform:translate(0.40px,0.70px) rotate(0.03deg) scaleX(0.9710);">12</div>
<div class="t" style="left:615px;top:167px;font-size:10.0px;color:#66757f;transform:translate(0.80px,0.70px) rotate(0.03deg) scaleX(0.9710);">13</div>
<div class="t" style="left:636px;top:167px;font-size:10.0px;color:#66757f;transform:translate(0.20px,0.70px) rotate(0.03deg) scaleX(0.9710);">14</div>
<div class="t" style="left:656px;top:167px;font-size:10.0px;color:#66757f;transform:translate(0.60px,0.70px) rotate(0.03deg) scaleX(0.9710);">15</div>
<div class="t" style="left:676px;top:167px;font-size:10.0px;color:#66757f;transform:translate(1.00px,0.70px) rotate(0.03deg) scaleX(0.9710);">16</div>
<div class="t" style="left:697px;top:167px;font-size:10.0px;color:#66757f;transform:translate(0.40px,0.70px) rotate(0.03deg) scaleX(0.9710);">17</div>
<div class="t" style="left:72px;top:627px;font-size:11.2px;color:#333;font-weight:bold;transform:translate(0.50px,0.20px) rotate(0.03deg) scaleX(1.0105);">Менструация</div>
<div class="t" style="left:238px;top:627px;font-size:11.2px;color:#333;font-weight:bold;transform:translate(0.00px,0.20px) rotate(0.03deg) scaleX(0.9766);">Тест на овуляцию</div>
<div class="t" style="left:377px;top:627px;font-size:11.2px;color:#333;font-weight:bold;transform:translate(0.50px,0.20px) rotate(0.03deg) scaleX(0.9960);">Тест на беременность</div>
<div class="t" style="left:545px;top:627px;font-size:11.2px;color:#333;font-weight:bold;transform:translate(0.00px,0.20px) rotate(0.03deg) scaleX(1.0089);">Цервикальная жидкость</div>
<div class="t" style="left:93px;top:647px;font-size:11px;color:#383838;transform:translate(0.60px,0.90px) rotate(0.03deg) scaleX(0.9890);">Менструация</div>
<div class="t" style="left:93px;top:670px;font-size:11px;color:#383838;transform:translate(0.60px,0.30px) rotate(0.03deg) scaleX(0.9917);">Небольшие выделения</div>
<div class="t" style="left:258px;top:647px;font-size:11px;color:#383838;transform:translate(0.90px,0.90px) rotate(0.03deg) scaleX(1.0022);">Положительный</div>
<div class="t" style="left:258px;top:670px;font-size:11px;color:#383838;transform:translate(0.90px,0.30px) rotate(0.03deg) scaleX(0.9897);">Отрицательный</div>
<div class="t" style="left:398px;top:647px;font-size:11px;color:#383838;transform:translate(0.60px,0.90px) rotate(0.03deg) scaleX(0.9974);">Положительный</div>
<div class="t" style="left:398px;top:670px;font-size:11px;color:#383838;transform:translate(0.60px,0.30px) rotate(0.03deg) scaleX(0.9860);">Отрицательный</div>
<div class="t" style="left:398px;top:692px;font-size:11px;color:#383838;transform:translate(0.60px,0.20px) rotate(0.03deg) scaleX(0.9880);">Слабоположительный</div>
<div class="t" style="left:567px;top:650px;font-size:11px;color:#383838;transform:translate(0.35px,0.30px) rotate(0.03deg) scaleX(0.9750);">Сухо</div>
<div class="t" style="left:567px;top:672px;font-size:11px;color:#383838;transform:translate(0.35px,0.30px) rotate(0.03deg) scaleX(1.0057);">Клейкая</div>
<div class="t" style="left:567px;top:694px;font-size:11px;color:#383838;transform:translate(0.35px,0.00px) rotate(0.03deg) scaleX(1.0164);">Кремообразная</div>
<div class="t" style="left:567px;top:715px;font-size:11px;color:#383838;transform:translate(0.35px,0.60px) rotate(0.03deg) scaleX(0.9811);">Водянистая</div>
<div class="t" style="left:567px;top:737px;font-size:11px;color:#383838;transform:translate(0.35px,0.20px) rotate(0.03deg) scaleX(1.0029);">Яичный белок</div>
<div class="t" style="left:93px;top:736px;font-size:11px;color:#383838;transform:translate(0.60px,0.80px) rotate(0.03deg) scaleX(1.0058);">Половой акт</div>
<div class="t" style="left:201px;top:736px;font-size:11px;color:#383838;transform:translate(0.00px,0.80px) rotate(0.03deg) scaleX(0.9848);">Прием лекарств</div>
<div class="t" style="left:329px;top:736px;font-size:11px;color:#383838;transform:translate(0.70px,0.80px) rotate(0.03deg) scaleX(1.0079);">Лунный календарь</div>
<div class="t" style="left:377px;top:142px;font-size:10px;color:#555;transform:translate(0.80px,0.00px) rotate(0.03deg) scaleX(0.9509);">2 фаза</div>
<div class="t" style="left:414px;top:140px;font-size:12px;color:#555;transform:translate(0.00px,0.00px) rotate(0.03deg) scaleX(0.9632);">36.5 °C</div>
<div class="t" style="left:474px;top:142px;font-size:10px;color:#555;transform:translate(0.50px,0.00px) rotate(0.03deg) scaleX(0.9726);">Разница t°</div>
<div class="t" style="left:527px;top:140px;font-size:12px;color:#555;transform:translate(0.00px,0.00px) rotate(0.03deg) scaleX(0.9611);">0.1 °C</div>
<div class="a" style="left:74.20px;top:0;width:638.60px;height:761px;overflow:hidden;">
<div class="t" style="left:-9px;top:460px;font-size:10.0px;color:#666;transform:translate(0.16px,0.90px) rotate(0.03deg) scaleX(0.9710);">11</div>
<div class="t" style="left:11px;top:460px;font-size:10.0px;color:#666;transform:translate(0.20px,0.90px) rotate(0.03deg) scaleX(0.9710);">12</div>
<div class="t" style="left:31px;top:460px;font-size:10.0px;color:#666;transform:translate(0.60px,0.90px) rotate(0.03deg) scaleX(0.9710);">13</div>
<div class="t" style="left:51px;top:460px;font-size:10.0px;color:#666;transform:translate(1.00px,0.90px) rotate(0.03deg) scaleX(0.9710);">14</div>
<div class="t" style="left:72px;top:460px;font-size:10.0px;color:#666;transform:translate(0.40px,0.90px) rotate(0.03deg) scaleX(0.9710);">15</div>
<div class="t" style="left:92px;top:460px;font-size:10.0px;color:#666;transform:translate(0.80px,0.90px) rotate(0.03deg) scaleX(0.9710);">16</div>
<div class="t" style="left:113px;top:460px;font-size:10.0px;color:#666;transform:translate(0.20px,0.90px) rotate(0.03deg) scaleX(0.9710);">17</div>
<div class="t" style="left:133px;top:460px;font-size:10.0px;color:#666;transform:translate(0.60px,0.90px) rotate(0.03deg) scaleX(0.9710);">18</div>
<div class="t" style="left:153px;top:460px;font-size:10.0px;color:#666;transform:translate(1.00px,0.90px) rotate(0.03deg) scaleX(0.9710);">19</div>
<div class="t" style="left:174px;top:460px;font-size:10.0px;color:#666;transform:translate(0.40px,0.90px) rotate(0.03deg) scaleX(0.9710);">20</div>
<div class="t" style="left:194px;top:460px;font-size:10.0px;color:#666;transform:translate(0.80px,0.90px) rotate(0.03deg) scaleX(0.9710);">21</div>
<div class="t" style="left:215px;top:460px;font-size:10.0px;color:#666;transform:translate(0.20px,0.90px) rotate(0.03deg) scaleX(0.9710);">22</div>
<div class="t" style="left:235px;top:460px;font-size:10.0px;color:#666;transform:translate(0.60px,0.90px) rotate(0.03deg) scaleX(0.9710);">23</div>
<div class="t" style="left:255px;top:460px;font-size:10.0px;color:#666;transform:translate(1.00px,0.90px) rotate(0.03deg) scaleX(0.9710);">24</div>
<div class="t" style="left:276px;top:460px;font-size:10.0px;color:#666;transform:translate(0.40px,0.90px) rotate(0.03deg) scaleX(0.9710);">25</div>
<div class="t" style="left:296px;top:460px;font-size:10.0px;color:#666;transform:translate(0.80px,0.90px) rotate(0.03deg) scaleX(0.9710);">26</div>
<div class="t" style="left:317px;top:460px;font-size:10.0px;color:#666;transform:translate(0.20px,0.90px) rotate(0.03deg) scaleX(0.9710);">27</div>
<div class="t" style="left:337px;top:460px;font-size:10.0px;color:#666;transform:translate(0.60px,0.90px) rotate(0.03deg) scaleX(0.9710);">28</div>
<div class="t" style="left:378px;top:460px;font-size:10.0px;color:#666;transform:translate(0.40px,0.90px) rotate(0.03deg) scaleX(0.9710);">30</div>
<div class="t" style="left:398px;top:460px;font-size:10.0px;color:#666;transform:translate(0.80px,0.90px) rotate(0.03deg) scaleX(0.9710);">31</div>
<div class="t" style="left:419px;top:460px;font-size:10.0px;color:#666;transform:translate(0.20px,0.90px) rotate(0.03deg) scaleX(0.9710);">32</div>
<div class="t" style="left:439px;top:460px;font-size:10.0px;color:#666;transform:translate(0.60px,0.90px) rotate(0.03deg) scaleX(0.9710);">33</div>
<div class="t" style="left:459px;top:460px;font-size:10.0px;color:#666;transform:translate(1.00px,0.90px) rotate(0.03deg) scaleX(0.9710);">34</div>
<div class="t" style="left:480px;top:460px;font-size:10.0px;color:#666;transform:translate(0.40px,0.90px) rotate(0.03deg) scaleX(0.9710);">35</div>
<div class="t" style="left:500px;top:460px;font-size:10.0px;color:#666;transform:translate(0.80px,0.90px) rotate(0.03deg) scaleX(0.9710);">36</div>
<div class="t" style="left:521px;top:460px;font-size:10.0px;color:#666;transform:translate(0.20px,0.90px) rotate(0.03deg) scaleX(0.9710);">37</div>
<div class="t" style="left:541px;top:460px;font-size:10.0px;color:#666;transform:translate(0.60px,0.90px) rotate(0.03deg) scaleX(0.9710);">38</div>
<div class="t" style="left:561px;top:460px;font-size:10.0px;color:#666;transform:translate(1.00px,0.90px) rotate(0.03deg) scaleX(0.9710);">39</div>
<div class="t" style="left:582px;top:460px;font-size:10.0px;color:#666;transform:translate(0.40px,0.90px) rotate(0.03deg) scaleX(0.9710);">40</div>
<div class="t" style="left:602px;top:460px;font-size:10.0px;color:#666;transform:translate(0.80px,0.90px) rotate(0.03deg) scaleX(0.9710);">41</div>
<div class="t" style="left:623px;top:460px;font-size:10.0px;color:#666;transform:translate(0.20px,0.90px) rotate(0.03deg) scaleX(0.9710);">42</div>
<div class="t" style="left:-10px;top:595px;font-size:10.0px;color:#666;transform:translate(0.80px,0.60px) rotate(0.03deg) scaleX(0.9710);">23</div>
<div class="t" style="left:11px;top:595px;font-size:10.0px;color:#666;transform:translate(0.20px,0.60px) rotate(0.03deg) scaleX(0.9710);">24</div>
<div class="t" style="left:31px;top:595px;font-size:10.0px;color:#666;transform:translate(0.60px,0.60px) rotate(0.03deg) scaleX(0.9710);">25</div>
<div class="t" style="left:51px;top:595px;font-size:10.0px;color:#666;transform:translate(1.00px,0.60px) rotate(0.03deg) scaleX(0.9710);">26</div>
<div class="t" style="left:72px;top:595px;font-size:10.0px;color:#666;transform:translate(0.40px,0.60px) rotate(0.03deg) scaleX(0.9710);">27</div>
<div class="t" style="left:92px;top:595px;font-size:10.0px;color:#e8416f;transform:translate(0.80px,0.60px) rotate(0.03deg) scaleX(0.9710);">28</div>
<div class="t" style="left:113px;top:595px;font-size:10.0px;color:#e8416f;transform:translate(0.20px,0.60px) rotate(0.03deg) scaleX(0.9710);">29</div>
<div class="t" style="left:133px;top:595px;font-size:10.0px;color:#666;transform:translate(0.60px,0.60px) rotate(0.03deg) scaleX(0.9710);">30</div>
<div class="t" style="left:153px;top:595px;font-size:10.0px;color:#666;transform:translate(1.00px,0.60px) rotate(0.03deg) scaleX(0.9710);">31</div>
<div class="t" style="left:174px;top:595px;font-size:10.0px;color:#666;transform:translate(0.40px,0.60px) rotate(0.03deg) scaleX(0.9710);">01</div>
<div class="t" style="left:194px;top:595px;font-size:10.0px;color:#666;transform:translate(0.80px,0.60px) rotate(0.03deg) scaleX(0.9710);">02</div>
<div class="t" style="left:215px;top:595px;font-size:10.0px;color:#666;transform:translate(0.20px,0.60px) rotate(0.03deg) scaleX(0.9710);">03</div>
<div class="t" style="left:235px;top:595px;font-size:10.0px;color:#e8416f;transform:translate(0.60px,0.60px) rotate(0.03deg) scaleX(0.9710);">04</div>
<div class="t" style="left:255px;top:595px;font-size:10.0px;color:#e8416f;transform:translate(1.00px,0.60px) rotate(0.03deg) scaleX(0.9710);">05</div>
<div class="t" style="left:276px;top:595px;font-size:10.0px;color:#666;transform:translate(0.40px,0.60px) rotate(0.03deg) scaleX(0.9710);">06</div>
<div class="t" style="left:296px;top:595px;font-size:10.0px;color:#666;transform:translate(0.80px,0.60px) rotate(0.03deg) scaleX(0.9710);">07</div>
<div class="t" style="left:317px;top:595px;font-size:10.0px;color:#666;transform:translate(0.20px,0.60px) rotate(0.03deg) scaleX(0.9710);">08</div>
<div class="t" style="left:337px;top:595px;font-size:10.0px;color:#666;transform:translate(0.60px,0.60px) rotate(0.03deg) scaleX(0.9710);">09</div>
<div class="t" style="left:378px;top:595px;font-size:10.0px;color:#e8416f;transform:translate(0.76px,0.60px) rotate(0.03deg) scaleX(0.9710);">11</div>
<div class="t" style="left:398px;top:595px;font-size:10.0px;color:#e8416f;transform:translate(0.80px,0.60px) rotate(0.03deg) scaleX(0.9710);">12</div>
<div class="t" style="left:419px;top:595px;font-size:10.0px;color:#666;transform:translate(0.20px,0.60px) rotate(0.03deg) scaleX(0.9710);">13</div>
<div class="t" style="left:439px;top:595px;font-size:10.0px;color:#666;transform:translate(0.60px,0.60px) rotate(0.03deg) scaleX(0.9710);">14</div>
<div class="t" style="left:459px;top:595px;font-size:10.0px;color:#666;transform:translate(1.00px,0.60px) rotate(0.03deg) scaleX(0.9710);">15</div>
<div class="t" style="left:480px;top:595px;font-size:10.0px;color:#666;transform:translate(0.40px,0.60px) rotate(0.03deg) scaleX(0.9710);">16</div>
<div class="t" style="left:500px;top:595px;font-size:10.0px;color:#666;transform:translate(0.80px,0.60px) rotate(0.03deg) scaleX(0.9710);">17</div>
<div class="t" style="left:521px;top:595px;font-size:10.0px;color:#e8416f;transform:translate(0.20px,0.60px) rotate(0.03deg) scaleX(0.9710);">18</div>
<div class="t" style="left:541px;top:595px;font-size:10.0px;color:#e8416f;transform:translate(0.60px,0.60px) rotate(0.03deg) scaleX(0.9710);">19</div>
<div class="t" style="left:561px;top:595px;font-size:10.0px;color:#666;transform:translate(1.00px,0.60px) rotate(0.03deg) scaleX(0.9710);">20</div>
<div class="t" style="left:582px;top:595px;font-size:10.0px;color:#666;transform:translate(0.40px,0.60px) rotate(0.03deg) scaleX(0.9710);">21</div>
<div class="t" style="left:602px;top:595px;font-size:10.0px;color:#666;transform:translate(0.80px,0.60px) rotate(0.03deg) scaleX(0.9710);">22</div>
<div class="t" style="left:623px;top:595px;font-size:10.0px;color:#666;transform:translate(0.20px,0.60px) rotate(0.03deg) scaleX(0.9710);">23</div>
</div>
</body></html>
